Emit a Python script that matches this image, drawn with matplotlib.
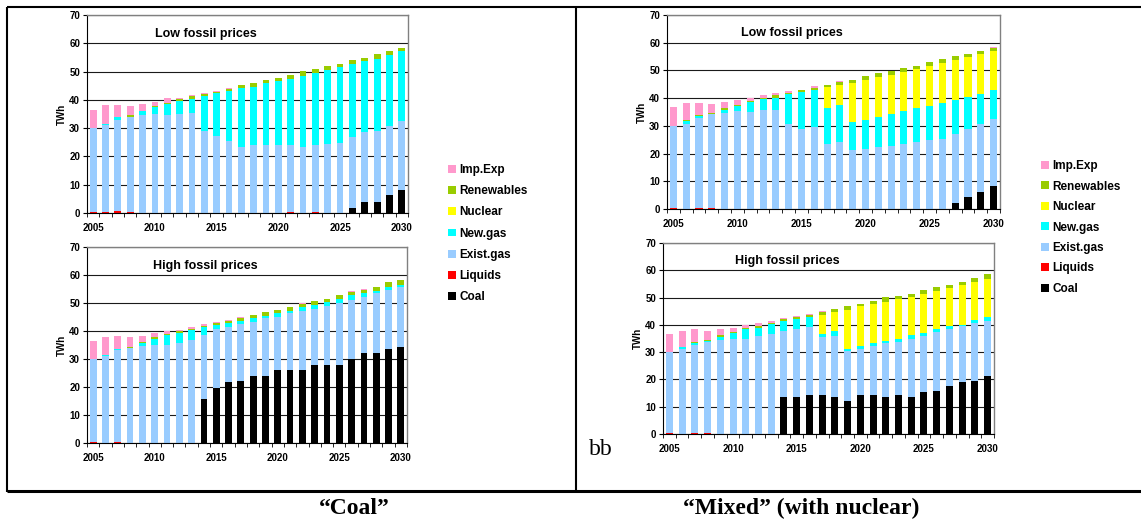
import numpy as np
import matplotlib
matplotlib.use("Agg")
import matplotlib.pyplot as plt
from matplotlib.patches import Patch
from matplotlib.lines import Line2D

plt.rcParams['font.family'] = ['Liberation Sans', 'DejaVu Sans']

years = list(range(2005, 2031))

# legend order (top to bottom) and colours
names = ['Imp.Exp', 'Renewables', 'Nuclear', 'New.gas', 'Exist.gas', 'Liquids', 'Coal']
colors = {'Imp.Exp': '#ff99cc', 'Renewables': '#99cc00', 'Nuclear': '#ffff00',
          'New.gas': '#00ffff', 'Exist.gas': '#99ccff', 'Liquids': '#ff0000',
          'Coal': '#000000'}

# coal and liquids are segment heights, the rest are the tops of each stacked layer (TWh)
# ---- "Coal" scenario, low fossil prices
cl_coal = [0] * 21 + [1.8, 4, 4, 6.2, 8.3]
cl_liq = [0.4, 0.3, 0.7, 0.4] + [0] * 12 + [0.3, 0, 0.4] + [0] * 7
cl_exist = [30.0, 31.2, 33.0, 34.1, 34.7, 35.1, 34.7, 35.1, 35.4, 29.1, 27.3, 25.3, 23.5,
            23.9, 23.9, 23.9, 23.9, 23.4, 23.9, 24.5, 24.8, 26.7, 28.7, 29.1, 30.8, 32.6]
cl_new = [30.0, 31.6, 33.8, 34.1, 36.1, 37.3, 38.6, 39.6, 40.4, 41.5, 42.5, 43.1, 44.1,
          44.7, 45.9, 46.7, 47.5, 48.6, 49.6, 50.6, 51.6, 52.8, 53.6, 54.5, 55.9, 57.1]
cl_nuc = cl_new
cl_ren = [30.0, 31.6, 33.8, 34.6, 36.1, 37.9, 38.9, 40.2, 41.2, 42.1, 42.9, 43.8, 45.1,
          46.0, 47.1, 47.8, 48.8, 50.1, 50.9, 52.0, 52.7, 54.1, 54.8, 56.2, 57.3, 58.5]
cl_imp = [36.5, 38.2, 38.2, 37.9, 38.6, 39.3, 40.5, 40.7, 41.8, 42.5, 43.3, 44.2, 45.3,
          46.0, 47.1, 47.8, 48.8, 50.1, 50.9, 52.0, 52.7, 54.1, 54.8, 56.2, 57.3, 58.5]

# ---- "Coal" scenario, high fossil prices
ch_coal = [0] * 9 + [15.8, 19.8, 21.9, 22, 24, 24, 26.2, 26.2, 26.2, 28, 28, 28, 30, 32, 32, 33.7, 34.2]
ch_liq = [0.4, 0, 0.4] + [0] * 19 + [0.3] + [0] * 3
ch_exist = [30.0, 31.0, 33.1, 34.0, 34.5, 35.1, 34.9, 35.7, 36.9, 38.7, 40.7, 41.5, 42.6,
            43.3, 44.5, 45.1, 46.3, 47.3, 48.0, 49.0, 50.0, 51.2, 52.1, 53.6, 54.5, 55.6]
ch_new = [30.0, 31.5, 33.7, 34.0, 35.7, 37.3, 38.6, 39.3, 40.4, 41.3, 42.1, 43.0, 43.7,
          44.8, 45.5, 46.5, 47.3, 48.5, 49.3, 50.2, 51.3, 52.7, 53.6, 54.4, 55.8, 56.5]
ch_nuc = ch_new
ch_ren = [30.0, 31.5, 33.7, 34.4, 36.2, 37.7, 38.9, 39.9, 40.7, 41.8, 42.7, 43.7, 44.6,
          45.7, 46.8, 47.6, 48.6, 49.5, 50.8, 51.4, 52.9, 53.8, 54.8, 55.8, 57.4, 58.1]
ch_imp = [36.5, 38.0, 38.3, 37.7, 38.3, 39.2, 40.1, 40.5, 41.4, 42.5, 43.2, 44.0, 45.0,
          45.7, 46.8, 47.6, 48.6, 49.9, 50.8, 51.4, 52.9, 54.2, 55.1, 55.8, 57.4, 58.1]

# ---- "Mixed" scenario, low fossil prices
ml_coal = [0] * 22 + [2, 4.2, 6, 8.2]
ml_liq = [0.4, 0, 0.4, 0.4] + [0] * 22
ml_exist = [30.0, 30.8, 33.0, 34.1, 34.5, 35.3, 34.9, 35.9, 35.8, 30.6, 28.7, 29.5, 23.4,
            24.1, 21.2, 21.6, 22.3, 22.9, 23.5, 24.2, 24.8, 25.3, 27.0, 28.9, 30.5, 32.4]
ml_new = [30.0, 31.8, 33.6, 34.1, 35.7, 37.1, 38.7, 39.6, 40.2, 41.4, 42.3, 42.9, 36.6,
          37.5, 31.3, 32.0, 33.1, 34.3, 35.3, 36.5, 37.2, 38.2, 39.4, 40.5, 41.6, 43.0]
ml_nuc = [30.0, 31.8, 33.6, 34.1, 35.7, 37.1, 38.7, 39.6, 40.2, 41.4, 42.3, 42.9, 43.9,
          44.6, 45.4, 46.5, 47.5, 48.3, 49.6, 50.4, 51.6, 52.6, 53.7, 54.8, 56.1, 57.1]
ml_ren = [30.0, 32.2, 34.0, 34.5, 36.5, 37.7, 39.0, 40.0, 41.1, 41.9, 42.9, 43.7, 44.6,
          45.9, 46.6, 47.9, 49.0, 49.9, 50.7, 51.6, 53.0, 54.1, 55.2, 55.9, 57.0, 58.2]
ml_imp = [36.7, 38.1, 38.1, 37.8, 38.6, 39.5, 40.0, 41.1, 41.7, 42.5, 43.1, 44.3, 44.9,
          46.1, 46.6, 47.9, 49.0, 49.9, 50.7, 51.6, 53.0, 54.1, 55.2, 55.9, 57.0, 58.4]

# ---- "Mixed" scenario, high fossil prices
mh_coal = [0] * 9 + [13.7, 13.7, 14.2, 14.2, 13.7, 12.2, 14.2, 14.2, 13.7, 14.2, 13.7,
                     15.5, 15.9, 17.7, 18.9, 19.5, 21.4]
mh_liq = [0.4, 0, 0.4, 0.4] + [0] * 22
mh_exist = [30.0, 31.1, 32.8, 33.8, 34.5, 35.0, 35.0, 36.0, 36.8, 37.9, 38.6, 39.2, 35.4,
            36.0, 30.5, 31.3, 32.1, 33.2, 33.9, 34.9, 36.0, 37.2, 38.4, 39.4, 40.5, 41.5]
mh_new = [30.0, 31.8, 33.5, 34.1, 35.7, 37.0, 38.4, 39.0, 40.4, 41.5, 42.2, 42.8, 36.7,
          37.6, 31.3, 32.1, 33.2, 34.2, 34.9, 36.4, 37.1, 38.3, 39.4, 40.1, 41.6, 42.7]
mh_nuc = [30.0, 31.8, 33.5, 34.1, 35.7, 37.0, 38.4, 39.0, 40.4, 41.5, 42.2, 42.8, 43.5,
          44.7, 45.5, 46.8, 47.5, 48.2, 49.5, 50.3, 51.4, 52.5, 53.6, 54.7, 55.8, 56.8]
mh_ren = [30.0, 31.8, 33.9, 34.5, 36.3, 37.5, 39.0, 39.7, 40.8, 42.1, 42.8, 43.7, 44.6,
          45.9, 47.0, 47.7, 48.6, 50.1, 50.7, 51.4, 52.9, 54.0, 54.7, 55.8, 57.3, 58.5]
mh_imp = [36.7, 37.8, 38.3, 37.8, 38.6, 39.0, 40.0, 40.8, 41.5, 42.5, 43.3, 44.1, 44.9,
          45.9, 47.0, 47.7, 48.6, 50.1, 50.7, 51.4, 52.9, 54.0, 54.7, 55.8, 57.3, 58.5]


def draw_panel(ax, title, coal, liq, exist, new, nuc, ren, imp, title_x=0.37):
    coal, liq = np.array(coal, float), np.array(liq, float)
    exist, new, nuc = np.array(exist, float), np.array(new, float), np.array(nuc, float)
    ren, imp = np.array(ren, float), np.array(imp, float)
    segs = [('Coal', coal), ('Liquids', liq), ('Exist.gas', exist - coal - liq),
            ('New.gas', new - exist), ('Nuclear', nuc - new),
            ('Renewables', ren - nuc), ('Imp.Exp', imp - ren)]
    x = np.arange(len(years))
    bottom = np.zeros(len(years))
    for name, h in segs:
        h = np.clip(h, 0, None)
        ax.bar(x, h, bottom=bottom, width=0.55, color=colors[name], linewidth=0)
        bottom += h

    ax.set_xlim(-0.5, len(years) - 0.5)
    ax.set_ylim(0, 70)
    ax.set_yticks(range(0, 71, 10))
    ax.set_xticks(x[::5])
    ax.set_xticklabels([str(y) for y in years[::5]])
    ax.set_xticks(np.arange(-0.5, len(years), 1), minor=True)
    ax.tick_params(axis='x', which='major', length=0, pad=7, labelsize=7)
    ax.tick_params(axis='x', which='minor', length=3, direction='out')
    ax.tick_params(axis='y', length=3, direction='out', pad=2, labelsize=7)
    for lab in ax.get_xticklabels() + ax.get_yticklabels():
        lab.set_fontweight('bold')
    ax.set_ylabel('TWh', fontsize=7, fontweight='bold', labelpad=1.5)

    ax.set_axisbelow(True)
    ax.yaxis.grid(True, color='#1a1a1a', linewidth=0.8)
    for side in ('top', 'right'):
        ax.spines[side].set_color('#808080')
        ax.spines[side].set_linewidth(1.0)
    ax.spines['left'].set_linewidth(0.8)
    ax.spines['bottom'].set_linewidth(0.8)
    ax.text(title_x, 0.905, title, transform=ax.transAxes, ha='center', va='center',
            fontsize=9, fontweight='bold')


fig = plt.figure(figsize=(11.41, 5.20), dpi=100)
W, H = 1141, 520


def px_axes(left, top, right, bottom):
    return fig.add_axes([left / W, 1 - bottom / H, (right - left) / W, (bottom - top) / H])


ax_cl = px_axes(87, 15, 408, 213)
ax_ch = px_axes(87, 247, 407, 443)
ax_ml = px_axes(667, 15, 1000, 209)
ax_mh = px_axes(663, 243, 994, 434)

draw_panel(ax_cl, 'Low fossil prices', cl_coal, cl_liq, cl_exist, cl_new, cl_nuc, cl_ren, cl_imp)
draw_panel(ax_ch, 'High fossil prices', ch_coal, ch_liq, ch_exist, ch_new, ch_nuc, ch_ren, ch_imp)
draw_panel(ax_ml, 'Low fossil prices', ml_coal, ml_liq, ml_exist, ml_new, ml_nuc, ml_ren, ml_imp, 0.375)
draw_panel(ax_mh, 'High fossil prices', mh_coal, mh_liq, mh_exist, mh_new, mh_nuc, mh_ren, mh_imp, 0.375)

# legends
handles = [Patch(facecolor=colors[n], edgecolor='none') for n in names]
for lx, ly, sp in [(448, 164, 0.78), (1041, 160, 0.72)]:
    fig.legend(handles, names, loc='upper left', bbox_to_anchor=(lx / W, 1 - ly / H),
               frameon=False, prop={'size': 8.5, 'weight': 'bold'},
               handlelength=0.65, handleheight=0.65, handletextpad=0.3,
               labelspacing=sp, borderpad=0, borderaxespad=0)

# table frame
def fig_line(xs, ys, lw):
    fig.add_artist(Line2D([x / W for x in xs], [1 - y / H for y in ys],
                          color='black', linewidth=lw, solid_capstyle='butt'))


fig_line([7, W], [7, 7], 1.5)
fig_line([7, 7], [7, 492], 1.5)
fig_line([576, 576], [7, 492], 1.5)
fig_line([7, W], [491, 491], 2.2)

fig.text(589 / W, 1 - 455 / H, 'bb', family='Liberation Serif', fontsize=17,
         ha='left', va='baseline')
fig.text(354 / W, 1 - 508 / H, '\u201cCoal\u201d', family='Liberation Serif',
         fontweight='bold', fontsize=17, ha='center', va='center')
fig.text(801 / W, 1 - 508 / H, '\u201cMixed\u201d (with nuclear)', family='Liberation Serif',
         fontweight='bold', fontsize=17, ha='center', va='center')

fig.savefig('out.png', dpi=100)
